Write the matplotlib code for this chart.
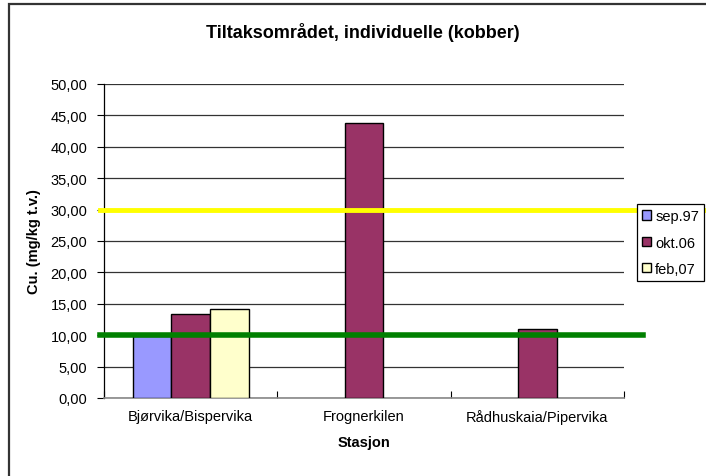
import numpy as np
import matplotlib
matplotlib.use("Agg")
from matplotlib import pyplot as plt
from matplotlib.patches import Rectangle
import matplotlib.transforms as mtransforms

plt.rcParams["font.family"] = ["Liberation Sans", "DejaVu Sans"]

# Data
stations = ["Bjørvika/Bispervika", "Frognerkilen", "Rådhuskaia/Pipervika"]
series = ["sep.97", "okt.06", "feb,07"]
sep97 = [9.8, np.nan, np.nan]
okt06 = [13.4, 43.8, 11.0]
feb07 = [14.2, np.nan, np.nan]
colors = ["#9999FF", "#993366", "#FFFFCC"]
limit_low = 10.0   # green line
limit_high = 30.0  # yellow line

fig = plt.figure(figsize=(7.06, 4.77), dpi=100)
W, H = 706, 477
ax = fig.add_axes([104 / W, 1 - 399 / H, (624 - 104) / W, (399 - 85) / H])

# outer chart border (left and top only visible)
fig.patches.append(Rectangle((9 / W, -0.1), 1.2, 1 - 5 / H + 0.1, transform=fig.transFigure,
                             fill=False, edgecolor="#333333", linewidth=1.6))

x = np.arange(len(stations))
bw = 0.67 / 3
for i, (vals, lab, c) in enumerate(zip([sep97, okt06, feb07], series, colors)):
    ax.bar(x + (i - 1) * bw, vals, bw, color=c, edgecolor="black", linewidth=1.0,
           label=lab, zorder=3)

ax.set_xlim(-0.5, 2.5)
ax.set_ylim(0, 50)
ax.set_yticks(np.arange(0, 50.1, 5))
ax.set_yticklabels([f"{v:.2f}".replace(".", ",") for v in np.arange(0, 50.1, 5)], fontsize=10.5)
ax.set_xticks([-0.5, 0.5, 1.5, 2.5], minor=False)
ax.set_xticklabels([])
ax.set_xticks(x, minor=True)
ax.set_xticklabels(stations, minor=True, fontsize=10.5)
ax.tick_params(axis="x", which="minor", length=0, pad=8)
ax.tick_params(axis="x", which="major", length=5, direction="in")
ax.tick_params(axis="y", length=5, direction="out", pad=7)
ax.grid(axis="y", color="#333333", linewidth=0.9, zorder=0)
for s in ["top", "right"]:
    ax.spines[s].set_visible(False)
ax.spines["left"].set_linewidth(0.9)
ax.spines["bottom"].set_color("#888888")
ax.spines["bottom"].set_linewidth(1.2)

ax.set_xlabel("Stasjon", fontsize=10.5, fontweight="bold", labelpad=8)
ax.set_ylabel("Cu. (mg/kg t.v.)", fontsize=10.5, fontweight="bold", labelpad=7)
fig.text(0.5 + 10 / W, 1 - 33 / H, "Tiltaksområdet, individuelle (kobber)", ha="center", va="center",
         fontsize=13, fontweight="bold")

# limit lines extending past the plot area
trans = mtransforms.blended_transform_factory(ax.transAxes, ax.transData)
ax.plot([-0.008, (643 - 104) / 520], [limit_low] * 2, color="#008000", linewidth=4,
        transform=trans, clip_on=False, zorder=5)
ax.plot([-0.008, (720 - 104) / 520], [limit_high] * 2, color="#FFFF00", linewidth=3.5,
        transform=trans, clip_on=False, zorder=5)

leg = ax.legend(loc="upper left", bbox_to_anchor=(637 / W, 1 - 205 / H), bbox_transform=fig.transFigure,
                fontsize=10.5, frameon=True, fancybox=False, edgecolor="black", framealpha=1,
                handlelength=0.6, handleheight=0.6, handletextpad=0.3, labelspacing=0.85,
                borderpad=0.35, borderaxespad=0)
leg.get_frame().set_linewidth(0.9)
leg.set_zorder(6)

fig.savefig("out.png", dpi=100)
